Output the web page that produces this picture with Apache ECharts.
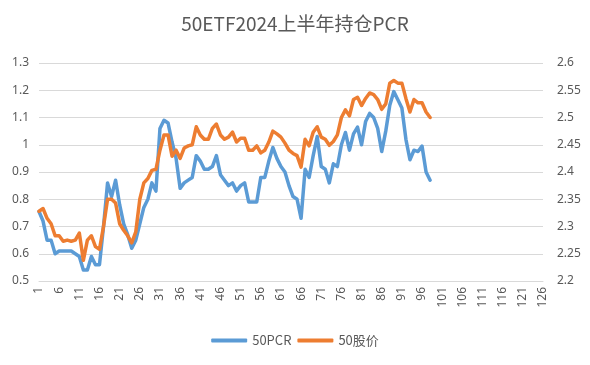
<!DOCTYPE html>
<html>
<head>
<meta charset="utf-8">
<script src="https://cdn.jsdelivr.net/npm/echarts@6/dist/echarts.min.js"></script>
<style>
html,body{margin:0;padding:0;background:#fff;}
#main{width:590px;height:365px;}
</style>
</head>
<body>
<div id="main"></div>
<script>
var titleText = '50ETF2024上半年持仓PCR';
var categoryCount = 126;
var categories = [];
for (var i = 1; i <= categoryCount; i++) categories.push(String(i));

var pcr = [0.755,0.72,0.65,0.65,0.60,0.61,0.61,0.61,0.61,0.60,
0.59,0.54,0.54,0.59,0.56,0.56,0.70,0.86,0.81,0.87,
0.78,0.71,0.67,0.62,0.65,0.71,0.77,0.80,0.86,0.83,
1.06,1.09,1.08,1.01,0.95,0.84,0.86,0.87,0.88,0.96,
0.94,0.91,0.91,0.92,0.96,0.89,0.87,0.85,0.86,0.83,
0.85,0.86,0.79,0.79,0.79,0.88,0.88,0.94,0.99,0.95,
0.92,0.90,0.85,0.81,0.80,0.73,0.91,0.88,0.96,1.03,
0.92,0.91,0.86,0.93,0.92,1.00,1.045,0.98,1.04,1.065,
1.00,1.085,1.115,1.10,1.06,0.975,1.05,1.145,1.195,1.165,
1.135,1.02,0.945,0.98,0.975,0.995,0.90,0.87];

var price = [2.328,2.333,2.315,2.305,2.283,2.283,2.273,2.275,2.273,2.275,
2.288,2.238,2.275,2.283,2.263,2.258,2.300,2.350,2.350,2.343,
2.305,2.293,2.283,2.270,2.290,2.350,2.380,2.388,2.403,2.405,
2.440,2.468,2.468,2.429,2.440,2.425,2.444,2.448,2.450,2.483,
2.468,2.460,2.460,2.480,2.488,2.468,2.460,2.464,2.473,2.455,
2.462,2.462,2.440,2.440,2.448,2.435,2.440,2.455,2.475,2.470,
2.464,2.453,2.440,2.434,2.430,2.409,2.460,2.448,2.473,2.483,
2.464,2.460,2.449,2.456,2.468,2.500,2.514,2.503,2.533,2.537,
2.522,2.535,2.545,2.542,2.533,2.515,2.525,2.563,2.568,2.563,
2.563,2.535,2.510,2.533,2.527,2.527,2.510,2.500];

var leftTicks = {min: 0.5, max: 1.3, interval: 0.1};
var rightTicks = {min: 2.2, max: 2.6, interval: 0.05};

var txt = '#595959';
var fontFam = "'Noto Sans', 'Noto Sans CJK SC', sans-serif";
var chart = echarts.init(document.getElementById('main'), null, {renderer: 'canvas'});
chart.setOption({
  animation: false,
  backgroundColor: '#ffffff',
  textStyle: {fontFamily: fontFam},
  title: {
    text: titleText, left: 'center', top: 9,
    textStyle: {color: txt, fontSize: 19, fontWeight: 'normal', fontFamily: "'Noto Sans CJK SC', sans-serif"}
  },
  legend: {
    bottom: 13, left: 'center',
    itemWidth: 36, itemHeight: 4, itemGap: 6,
    icon: 'roundRect',
    textStyle: {color: txt, fontSize: 13, fontFamily: "'Noto Sans CJK SC', sans-serif"},
    data: ['50PCR', '50股价']
  },
  grid: {left: 39, right: 47, top: 63, bottom: 84},
  xAxis: {
    type: 'category', data: categories, boundaryGap: false,
    axisLine: {lineStyle: {color: '#D9D9D9'}},
    axisTick: {show: false},
    axisLabel: {interval: 4, rotate: 90, color: txt, fontSize: 12, margin: 6}
  },
  yAxis: [{
    type: 'value', min: leftTicks.min, max: leftTicks.max, interval: leftTicks.interval,
    axisLine: {show: false}, axisTick: {show: false},
    axisLabel: {color: txt, fontSize: 12, margin: 10},
    splitLine: {lineStyle: {color: '#D9D9D9'}}
  }, {
    type: 'value', min: rightTicks.min, max: rightTicks.max, interval: rightTicks.interval,
    axisLine: {show: false}, axisTick: {show: false},
    axisLabel: {color: txt, fontSize: 12, margin: 14},
    splitLine: {show: false}
  }],
  series: [{
    name: '50PCR', type: 'line', data: pcr, yAxisIndex: 0,
    showSymbol: false, symbol: 'none',
    lineStyle: {color: '#5B9BD5', width: 3.5, cap: 'round', join: 'round'},
    itemStyle: {color: '#5B9BD5'}
  }, {
    name: '50股价', type: 'line', data: price, yAxisIndex: 1,
    showSymbol: false, symbol: 'none',
    lineStyle: {color: '#ED7D31', width: 3.5, cap: 'round', join: 'round'},
    itemStyle: {color: '#ED7D31'}
  }]
});
</script>
</body>
</html>
